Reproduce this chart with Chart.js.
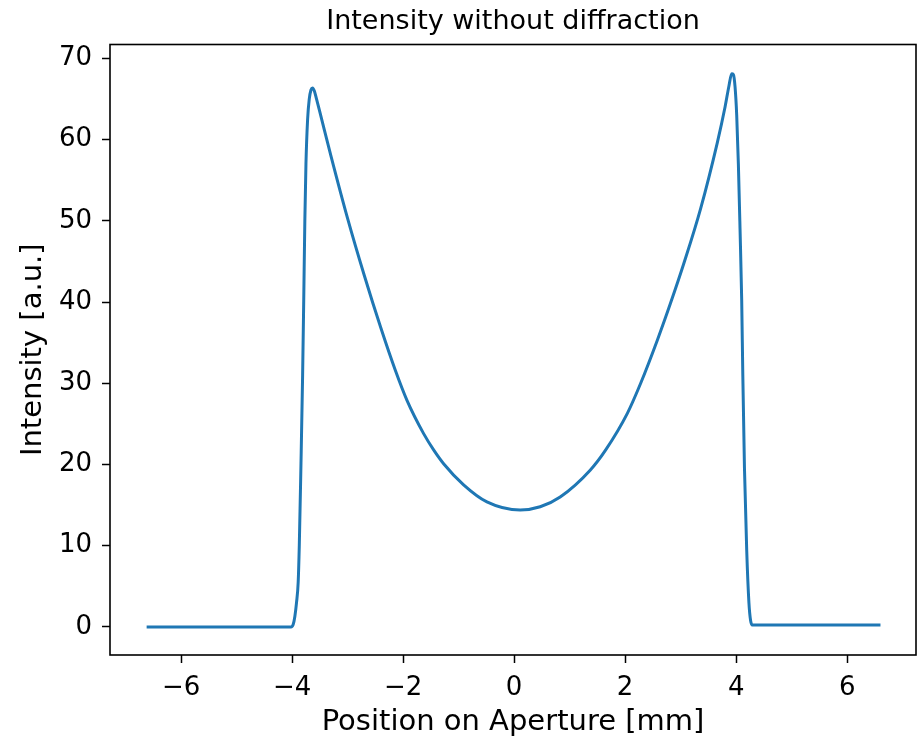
<!DOCTYPE html>
<html>
<head>
<meta charset="utf-8">
<script src="https://cdn.jsdelivr.net/npm/chart.js@4.4.0/dist/chart.umd.min.js"></script>
<style>
  body { margin: 0; background: #fff; }
</style>
</head>
<body>
<canvas id="myChart" width="919" height="737"></canvas>
<script>
const chartTitle = "Intensity without diffraction";
const xTitle = "Position on Aperture [mm]";
const yTitle = "Intensity [a.u.]";

// positions [mm]
const positions = [
  -6.62, -4.02, -3.98, -3.95, -3.92, -3.89, -3.87, -3.84, -3.81, -3.79,
  -3.77, -3.75, -3.72, -3.69, -3.66, -3.63, -3.60, -3.56, -3.50, -3.30,
  -3.00, -2.70, -2.40, -2.14, -1.93, -1.63, -1.45, -1.27, -0.91, -0.49,
  0.11, 0.47, 0.83, 1.37, 1.65, 2.04, 2.28, 2.58, 2.82, 3.06,
  3.36, 3.66, 3.80, 3.87, 3.92, 3.95, 3.98, 4.01, 4.04, 4.07,
  4.10, 4.12, 4.15, 4.19, 4.23, 4.26, 4.29, 4.35, 6.60
];
// intensity at each position [a.u.]
const intensity = [
  0, 0, 0.3, 1.3, 3, 5.5, 10, 20, 31, 40.2,
  50, 57, 62.5, 65.0, 66.1, 66.35, 66.0, 65.0, 63.4, 58.0,
  50.3, 43.3, 36.8, 31.6, 27.9, 23.8, 21.8, 20.1, 17.5, 15.4,
  14.4, 14.8, 16.0, 19.3, 21.8, 26.3, 30.0, 35.3, 39.9, 44.8,
  51.5, 59.6, 64.0, 66.6, 68.1, 68.0, 66.5, 63.0, 57, 49,
  40.2, 31, 19.5, 9.5, 3, 0.8, 0.25, 0.25, 0.25
];

const xTicks = [-6, -4, -2, 0, 2, 4, 6];
const yTicks = [0, 10, 20, 30, 40, 50, 60, 70];

const minus = (v) => (v < 0 ? "\u2212" + Math.abs(v) : String(v));

const frame = {
  id: "frame",
  afterDraw(chart) {
    const { ctx, chartArea: a } = chart;
    ctx.save();
    ctx.strokeStyle = "#000";
    ctx.lineWidth = 1.6;
    ctx.strokeRect(a.left, a.top, a.right - a.left, a.bottom - a.top);
    ctx.restore();
  },
};

const tickFont = { family: "DejaVu Sans", size: 26 };

new Chart(document.getElementById("myChart"), {
  type: "line",
  plugins: [frame],
  data: {
    datasets: [
      {
        data: positions.map((x, i) => ({ x: x, y: intensity[i] })),
        borderColor: "#1f77b4",
        borderWidth: 3,
        pointRadius: 0,
        fill: false,
        cubicInterpolationMode: "monotone",
      },
    ],
  },
  options: {
    responsive: false,
    animation: false,
    layout: { padding: { left: 0, right: 3, top: 0, bottom: 0 } },
    plugins: {
      legend: { display: false },
      tooltip: { enabled: false },
      title: {
        display: true,
        fullSize: false,
        text: chartTitle,
        color: "#000",
        font: { family: "DejaVu Sans", size: 27, weight: "normal", lineHeight: 1.2 },
        padding: { top: 6.2, bottom: 5.9 },
      },
    },
    scales: {
      x: {
        type: "linear",
        min: -7.28,
        max: 7.24,
        afterFit(scale) { scale.height = 82; },
        afterBuildTicks(scale) { scale.ticks = xTicks.map((v) => ({ value: v })); },
        grid: { drawOnChartArea: false, drawTicks: true, tickLength: 8, tickWidth: 1.5, tickColor: "#000" },
        border: { display: false },
        ticks: {
          color: "#000",
          font: tickFont,
          padding: 10,
          maxRotation: 0,
          callback: (v) => minus(v),
        },
        title: {
          display: true,
          text: xTitle,
          color: "#000",
          font: { family: "DejaVu Sans", size: 29, lineHeight: 1 },
          padding: { top: 0, bottom: 0.5 },
        },
      },
      y: {
        type: "linear",
        min: -3.45,
        max: 71.7,
        afterFit(scale) { scale.width = 110; },
        afterBuildTicks(scale) { scale.ticks = yTicks.map((v) => ({ value: v })); },
        grid: { drawOnChartArea: false, drawTicks: true, tickLength: 8, tickWidth: 1.5, tickColor: "#000" },
        border: { display: false },
        ticks: {
          color: "#000",
          font: tickFont,
          padding: 10,
          callback: (v) => minus(v),
        },
        title: {
          display: true,
          text: yTitle,
          color: "#000",
          font: { family: "DejaVu Sans", size: 29, lineHeight: 1 },
          padding: { top: 18.5, bottom: 0 },
        },
      },
    },
  },
});
</script>
</body>
</html>
